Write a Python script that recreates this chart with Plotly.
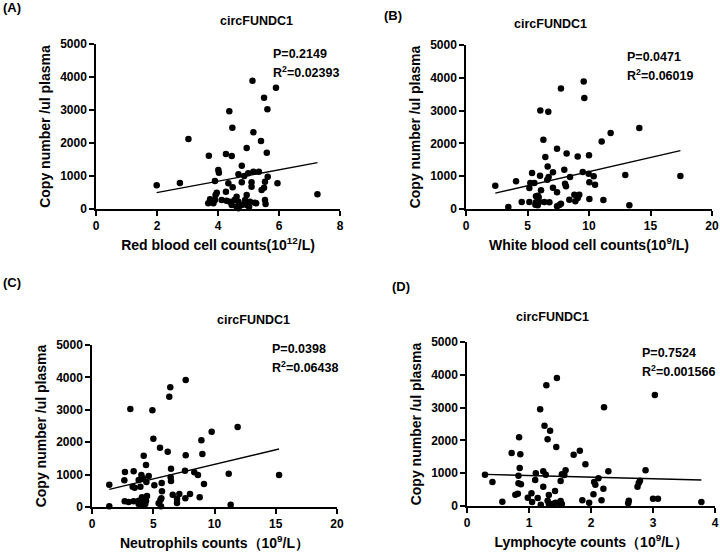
import plotly.graph_objects as go

# panel A - red blood cells
rbc_x = [1.99, 2.75, 3.03, 4.37, 4.47, 4.94, 5.16, 5.13, 5.51, 5.90, 5.62, 5.41, 7.26,
         3.70, 4.26, 4.45, 5.60, 4.78, 4.01, 4.03, 4.67, 4.99, 5.16, 5.34, 4.86, 5.63,
         3.90, 4.34, 4.78, 5.10, 5.54, 5.95, 4.48, 5.10, 5.51, 5.43, 3.96, 3.92, 4.26,
         4.61, 4.94, 3.74, 3.90, 4.12, 4.28, 4.39, 4.54, 4.67, 4.89, 5.05, 5.21, 5.54,
         5.56, 3.68, 3.85, 4.45, 4.61, 4.78, 4.94, 5.02, 5.25, 4.67]
rbc_y = [717, 788, 2121, 2960, 2465, 1850, 2323, 3889, 3374, 3677, 3020, 2061, 444,
         1616, 1667, 1606, 1707, 1313, 1182, 1101, 1050, 1081, 1131, 1131, 1000, 980,
         848, 778, 808, 808, 828, 778, 657, 677, 646, 576, 495, 424, 525,
         374, 424, 293, 273, 273, 252, 222, 273, 222, 273, 222, 192, 273,
         152, 172, 172, 121, 71, 121, 121, 71, 172, 20]

# panel B - white blood cells
wbc_x = [9.57, 7.72, 9.62, 6.04, 6.69, 14.09, 11.76, 11.03, 6.29, 7.40, 8.18, 9.08, 10.0,
         6.45, 6.64, 7.99, 7.07, 9.49, 9.97, 10.38, 12.95, 17.43, 5.37, 6.02, 4.07, 2.38,
         5.23, 5.56, 5.15, 6.72, 6.61, 8.46, 8.05, 8.13, 10.03, 10.49, 7.07, 6.10, 7.40,
         5.83, 5.69, 5.91, 8.81, 9.21, 9.08, 8.40, 8.89, 10.03, 11.17, 4.53, 5.15, 5.69,
         5.96, 6.37, 6.78, 5.64, 5.83, 7.72, 7.59, 7.40, 3.44, 13.28]
wbc_y = [3888, 3675, 3381, 3005, 2964, 2467, 2315, 2061, 2112, 1838, 1695, 1604, 1635,
         1584, 1299, 1198, 1117, 1127, 1076, 995, 1036, 1005, 1096, 1015, 843, 711,
         792, 792, 640, 975, 893, 975, 772, 690, 812, 741, 650, 569, 508,
         406, 386, 355, 437, 437, 335, 284, 234, 305, 274, 213, 213, 203,
         213, 213, 203, 132, 112, 162, 122, 81, 61, 112]

# panel C - neutrophils
neu_x = [7.65, 6.39, 6.31, 3.13, 4.93, 11.89, 9.77, 5.01, 8.93, 5.55, 6.18, 7.65, 9.01,
         4.22, 4.41, 6.45, 7.59, 8.35, 8.65, 11.16, 15.27, 2.69, 3.40, 4.03, 2.64, 1.41,
         3.32, 3.48, 3.81, 4.16, 4.63, 4.44, 3.95, 5.09, 5.69, 6.45, 6.42, 9.14, 5.71,
         4.08, 4.49, 6.59, 7.13, 8.00, 6.94, 7.62, 8.79, 2.67, 2.99, 3.40, 3.81, 4.16,
         4.41, 5.58, 5.66, 3.81, 4.08, 4.35, 5.44, 5.63, 1.41, 11.32, 6.94]
neu_y = [3920, 3693, 3405, 3025, 2983, 2469, 2325, 2109, 2058, 1831, 1708, 1595, 1636,
         1584, 1296, 1183, 1121, 1070, 988, 1029, 988, 1080, 1101, 988, 823, 689,
         628, 597, 833, 885, 957, 772, 628, 669, 741, 802, 916, 710, 484,
         298, 339, 381, 401, 401, 257, 267, 298, 175, 154, 175, 195, 144,
         195, 216, 267, 93, 72, 93, 113, 21, 21, 72, 123]

# panel D - lymphocytes
lym_x = [1.45, 1.28, 3.03, 1.18, 2.21, 1.25, 1.34, 0.84, 1.30, 1.44, 1.82, 1.72, 0.72,
         0.86, 1.91, 0.85, 2.88, 2.28, 0.29, 0.41, 0.83, 0.83, 0.87, 1.11, 1.23, 1.27,
         1.59, 1.53, 1.57, 1.10, 1.23, 1.51, 2.12, 2.05, 2.07, 2.20, 2.79, 2.77, 2.75,
         0.78, 0.82, 0.98, 1.04, 1.14, 1.32, 1.42, 2.04, 0.57, 1.05, 1.19, 1.30, 1.32,
         1.39, 1.43, 1.49, 1.51, 1.53, 1.86, 1.97, 2.17, 2.61, 2.60, 3.00, 3.08, 3.78]
lym_y = [3902, 3679, 3384, 2947, 3008, 2449, 2297, 2093, 2033, 1799, 1687, 1565, 1616,
         1575, 1270, 1159, 1087, 1057, 955, 732, 925, 691, 661, 996, 1057, 955,
         1087, 965, 945, 793, 589, 762, 843, 732, 650, 528, 772, 701, 589,
         345, 376, 254, 386, 244, 335, 457, 356, 132, 122, 41, 163, 61,
         71, 102, 91, 152, 61, 173, 102, 173, 163, 81, 224, 224, 122]

# fitted lines (slope, intercept)
fits = [(172.5, 152), (86.1, 280), (89.8, 418), (-49.3, 979)]
p_texts = ["P=0.2149", "P=0.0471", "P=0.0398", "P=0.7524"]
r2_texts = ["0.02393", "0.06019", "0.06438", "0.001566"]
x_titles = ["Red blood cell counts(10<sup>12</sup>/L)",
            "White blood cell counts(10<sup>9</sup>/L)",
            "Neutrophils counts（10<sup>9</sup>/L）",
            "Lymphocyte counts（10<sup>9</sup>/L）"]
x_ticks = [[0, 2, 4, 6, 8], [0, 5, 10, 15, 20], [0, 5, 10, 15, 20], [0, 1, 2, 3, 4]]
y_ticks = [0, 1000, 2000, 3000, 4000, 5000]
labels = ["(A)", "(B)", "(C)", "(D)"]

W, H = 720, 554
# plot boxes in pixels: left, right, bottom, top
boxes = [(96, 340, 209, 44), (466, 712, 209, 45), (92, 337, 507, 345), (467, 715, 506, 342)]
label_pos = [(1, 8), (382, 15), (1, 282), (390, 286)]
title_y = [21, 24, 320, 317]
stat_pos = [(271, 54), (625, 57), (270, 349), (640, 353)]

FONT = "Arial, Liberation Sans, sans-serif"
data = [(rbc_x, rbc_y), (wbc_x, wbc_y), (neu_x, neu_y), (lym_x, lym_y)]

fig = go.Figure()
ann = []
for i, (xs, ys) in enumerate(data):
    n = "" if i == 0 else str(i + 1)
    xa, ya = "x" + n, "y" + n
    l, r, b, t = boxes[i]
    slope, icpt = fits[i]
    lx = [min(xs), max(xs)]
    ly = [slope * v + icpt for v in lx]
    fig.add_trace(go.Scatter(x=xs, y=ys, mode="markers", xaxis=xa, yaxis=ya,
                             marker=dict(color="black", size=6.5), cliponaxis=False,
                             showlegend=False))
    fig.add_trace(go.Scatter(x=lx, y=ly, mode="lines", xaxis=xa, yaxis=ya,
                             line=dict(color="black", width=1.4), showlegend=False))
    axis_common = dict(showline=True, linecolor="black", linewidth=1.5, ticks="outside",
                       ticklen=5, tickwidth=1.5, tickcolor="black", showgrid=False,
                       zeroline=False, automargin=False,
                       tickfont=dict(family=FONT, size=12, color="black", weight="bold"))
    fig.layout["xaxis" + n] = dict(domain=[l / W, r / W], anchor=ya,
                                   range=[x_ticks[i][0], x_ticks[i][-1]], tickvals=x_ticks[i],
                                   title=dict(text=x_titles[i], standoff=8,
                                              font=dict(family=FONT, size=14, color="black", weight="bold")),
                                   **axis_common)
    fig.layout["yaxis" + n] = dict(domain=[1 - b / H, 1 - t / H], anchor=xa,
                                   range=[0, 5000], tickvals=y_ticks,
                                   title=dict(text="Copy number /ul plasma", standoff=6,
                                              font=dict(family=FONT, size=14, color="black", weight="bold")),
                                   **axis_common)
    ann.append(dict(text="circFUNDC1", x=(l + r) / 2 / W, y=1 - title_y[i] / H, xref="paper", yref="paper",
                    yanchor="middle", showarrow=False,
                    font=dict(family=FONT, size=12.5, color="black", weight="bold")))
    ann.append(dict(text=labels[i], x=label_pos[i][0] / W, y=1 - label_pos[i][1] / H, xref="paper",
                    yref="paper", xanchor="left", yanchor="middle", showarrow=False,
                    font=dict(family=FONT, size=13, color="black", weight="bold")))
    sx, sy = stat_pos[i]
    stat_font = dict(family=FONT, size=12.5, color="black", weight="bold")
    ann.append(dict(text=p_texts[i], x=sx / W, y=1 - sy / H, xref="paper", yref="paper",
                    xanchor="left", yanchor="middle", showarrow=False, font=stat_font))
    ann.append(dict(text="R<sup>2</sup>=" + r2_texts[i], x=sx / W, y=1 - (sy + 18) / H,
                    xref="paper", yref="paper", xanchor="left", yanchor="middle",
                    showarrow=False, font=stat_font))

fig.update_layout(width=W, height=H, margin=dict(l=0, r=0, t=0, b=0),
                  paper_bgcolor="white", plot_bgcolor="white", annotations=ann,
                  font=dict(family=FONT, color="black"))
# drop the default 8px body margin so the figure sits at the page corner
fig.write_html("out.html", config={"displayModeBar": False},
               post_script="document.body.style.margin='0';")
